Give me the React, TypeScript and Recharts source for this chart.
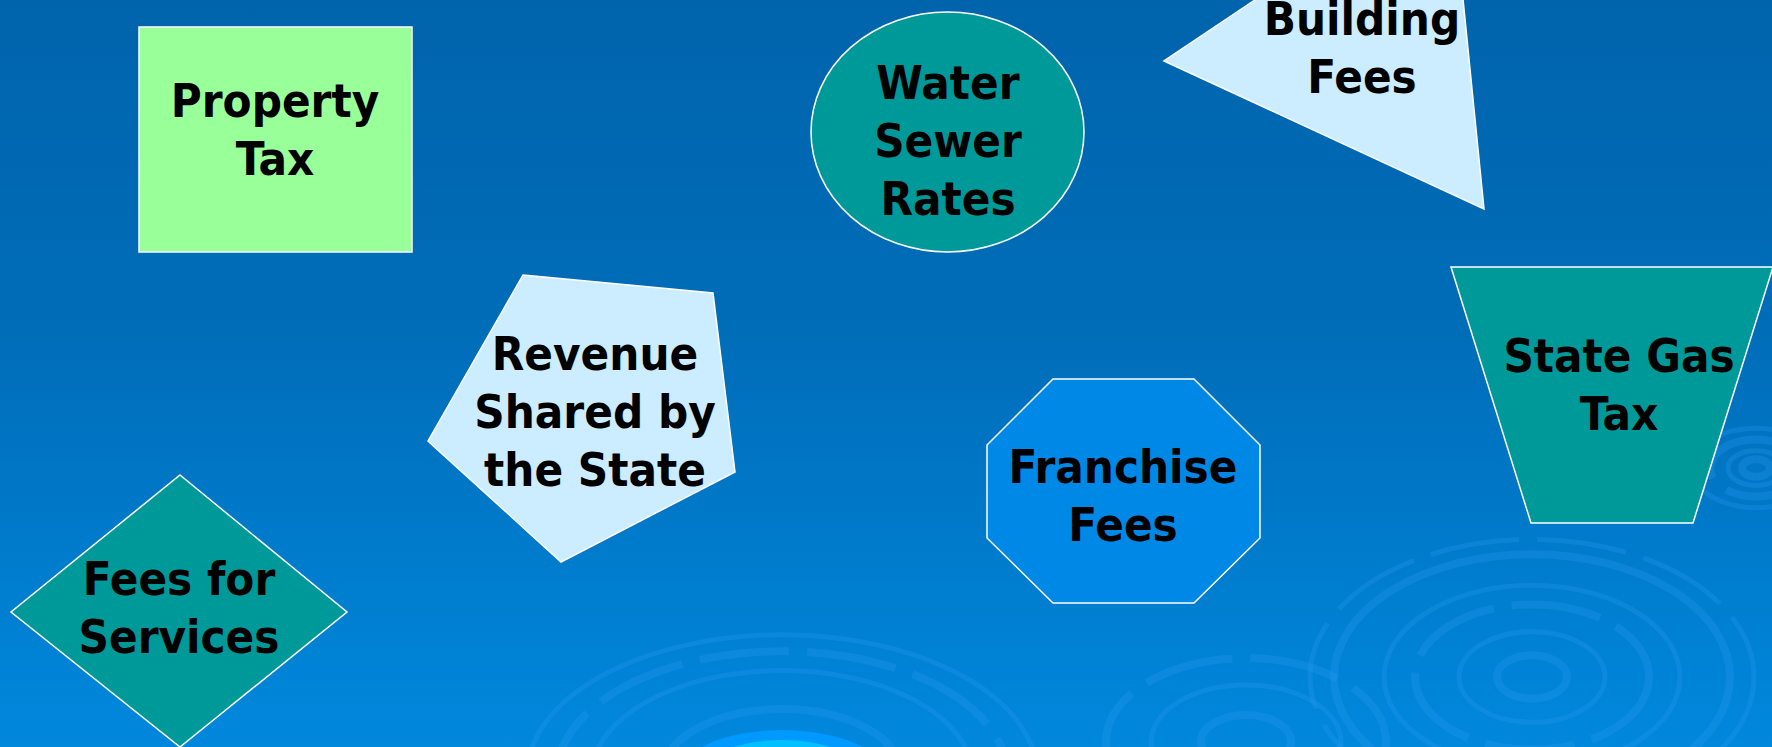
import { ScatterChart, Scatter, XAxis, YAxis, Customized } from "recharts";

// revenue sources shown on the slide
const labels = [
  "Property Tax",
  "Water Sewer Rates",
  "Building Fees",
  "Revenue Shared by the State",
  "Franchise Fees",
  "State Gas Tax",
  "Fees for Services",
];
const labelLines = [
  ["Property", "Tax"],
  ["Water", "Sewer", "Rates"],
  ["Building", "Fees"],
  ["Revenue", "Shared by", "the State"],
  ["Franchise", "Fees"],
  ["State Gas", "Tax"],
  ["Fees for", "Services"],
];
const shapeKinds = ["rect", "ellipse", "triangle", "pentagon", "octagon", "trapezoid", "diamond"];
// label centre of each shape on the 1772 x 747 slide
const centerX = [275, 948, 1362, 595, 1123, 1619, 179];
const centerY = [128.5, 140, 46.5, 411, 495, 383.5, 606.5];

const W = 1772;
const H = 747;

const rows = labels.map((label, i) => ({
  label,
  lines: labelLines[i],
  kind: shapeKinds[i],
  x: centerX[i],
  y: centerY[i],
}));

const FILL: Record<string, string> = {
  rect: "#99FF99",
  ellipse: "#009999",
  triangle: "#CCECFF",
  pentagon: "#CCECFF",
  octagon: "#0088E6",
  trapezoid: "#009999",
  diamond: "#009999",
};

// outline points, relative to the label centre
const POINTS: Record<string, number[][]> = {
  rect: [[-136, -101.5], [137, -101.5], [137, 123.5], [-136, 123.5]],
  triangle: [[-198, 14.5], [122, 162.5], [88, -177.5]],
  pentagon: [[-72, -136], [118, -118], [140, 61], [-34, 151], [-167, 30]],
  octagon: [
    [-70, -116], [71, -116], [137, -50], [137, 43],
    [71, 108], [-70, 108], [-136, 43], [-136, -50],
  ],
  trapezoid: [[-168, -116.5], [154, -116.5], [74, 139.5], [-88, 139.5]],
  diamond: [[1, -131.5], [168, 5.5], [1, 140.5], [-168, 5.5]],
};

const FONT = "'DejaVu Sans Condensed', 'DejaVu Sans', sans-serif";
const LINE = 58;

function SlideShape(props: any) {
  const { cx, cy, payload } = props;
  const kind = payload.kind;
  let outline;
  if (kind === "ellipse") {
    outline = (
      <ellipse cx={cx - 0.5} cy={cy - 8} rx={136.5} ry={120} fill={FILL[kind]} stroke="#fff" strokeWidth={1.5} />
    );
  } else {
    const pts = POINTS[kind].map(([dx, dy]) => `${cx + dx},${cy + dy}`).join(" ");
    outline = <polygon points={pts} fill={FILL[kind]} stroke="#fff" strokeWidth={1.5} />;
  }
  const n = payload.lines.length;
  return (
    <g>
      {outline}
      <text
        textAnchor="middle"
        fontFamily={FONT}
        fontWeight="bold"
        fontSize={47}
        fill="#000"
      >
        {payload.lines.map((t: string, i: number) => (
          <tspan key={t} x={cx} y={cy + 17 + (i - (n - 1) / 2) * LINE}>
            {t}
          </tspan>
        ))}
      </text>
    </g>
  );
}

// decorative water ripples of the slide template
const ripples = [
  { cx: 1532, cy: 677, radii: [35, 73, 117, 148, 198, 222], k: 0.62 },
  { cx: 1756, cy: 468, radii: [14, 28, 46, 64], k: 0.62 },
  { cx: 1246, cy: 742, radii: [45, 95, 140], k: 0.6 },
  { cx: 782, cy: 775, radii: [120, 190, 225, 255], k: 0.55 },
];

function Backdrop() {
  return (
    <g>
      <rect x={0} y={0} width={W} height={H} fill="url(#slideBg)" />
      {ripples.map((r, i) => (
        <g key={i}>
          {r.radii.map((rad, j) => (
            <ellipse
              key={j}
              cx={r.cx}
              cy={r.cy}
              rx={rad}
              ry={rad * r.k}
              fill="none"
              stroke="#2a9cf0"
              strokeOpacity={0.28}
              strokeWidth={j % 2 ? 5 : 8}
              strokeDasharray={j % 3 === 2 ? "90 18" : undefined}
            />
          ))}
        </g>
      ))}
      <ellipse cx={782} cy={778} rx={105} ry={48} fill="#0099FF" />
      <ellipse cx={782} cy={782} rx={88} ry={42} fill="#00C0FF" />
    </g>
  );
}

export default function App() {
  return (
    <div style={{ width: W, height: H }}>
      <style>{"body{margin:0;overflow:hidden}"}</style>
      <ScatterChart width={W} height={H} margin={{ top: 0, right: 0, bottom: 0, left: 0 }}>
        <defs>
          <linearGradient id="slideBg" x1="0" y1="0" x2="0" y2="1">
            <stop offset="0%" stopColor="#0064AC" />
            <stop offset="45%" stopColor="#006DB9" />
            <stop offset="100%" stopColor="#0088DD" />
          </linearGradient>
        </defs>
        <XAxis type="number" dataKey="x" domain={[0, W]} hide />
        <YAxis type="number" dataKey="y" domain={[0, H]} reversed hide />
        <Customized component={Backdrop} />
        <Scatter
          data={rows}
          shape={SlideShape}
          isAnimationActive={false}
        />
      </ScatterChart>
    </div>
  );
}
